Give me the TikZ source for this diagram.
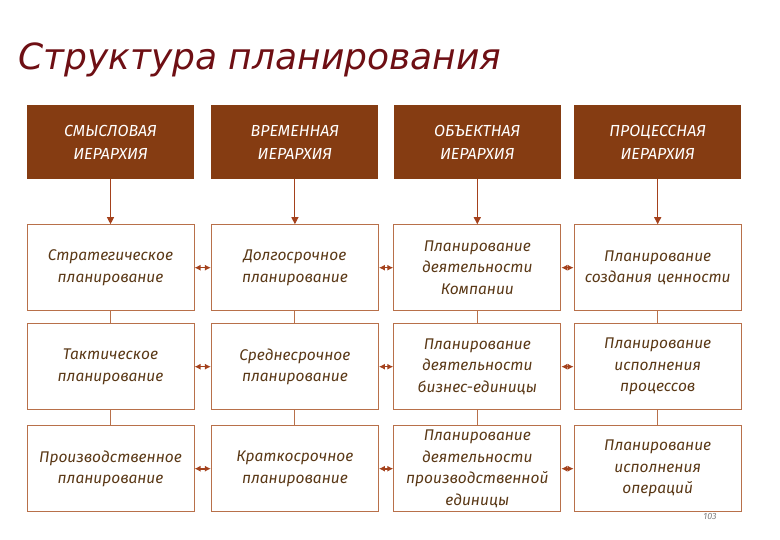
\documentclass[tikz,border=0pt]{standalone}
\usepackage{fontspec}
\setmainfont{Fira Sans}
\newfontfamily\titlefont{DejaVu Sans}
\usetikzlibrary{arrows.meta,positioning}
\definecolor{Wine}{HTML}{6E0F14}
\definecolor{Bark}{HTML}{853C12}
\definecolor{Edge}{HTML}{B8704A}
\definecolor{Ink}{HTML}{5A3816}
\definecolor{Rust}{HTML}{A4411C}

\begin{document}
\begin{tikzpicture}[x=1pt,y=-1pt,
    hd/.style={fill=Bark,text=white,minimum width=167pt,minimum height=74pt,text width=160pt,align=center,inner sep=0pt,font=\itshape\fontsize{16}{23}\selectfont},
    b/.style={draw=Edge,line width=1pt,fill=white,text=Ink,minimum width=167pt,minimum height=86pt,text width=164pt,align=center,inner sep=0pt,font=\itshape\fontsize{15.5}{21.5}\selectfont},
    dn/.style={-{Triangle[length=7pt,width=7pt]},draw=Rust,line width=1pt},
    ln/.style={draw=Edge,line width=1pt},
    dbl/.style={{Latex[length=6pt,width=6pt]}-{Latex[length=6pt,width=6pt]},draw=Rust,line width=1.6pt}]
    \fill[white] (0,0) rectangle (780,540);
    \useasboundingbox (0,0) rectangle (780,540);
    \node[anchor=base west,inner sep=0pt,text=Wine,font=\titlefont\itshape\fontsize{36}{36}\selectfont] (title) at (18,70) {Структура планирования};
    % headers
    \node[hd] (hSem) at (110.5,142) {СМЫСЛОВАЯ\\ИЕРАРХИЯ};
    \node[hd,right=17pt of hSem] (hTime) {ВРЕМЕННАЯ\\ИЕРАРХИЯ};
    \node[hd,right=15pt of hTime] (hObj) {ОБЪЕКТНАЯ\\ИЕРАРХИЯ};
    \node[hd,right=13pt of hObj] (hProc) {ПРОЦЕССНАЯ\\ИЕРАРХИЯ};
    % first row
    \node[b,below=45pt of hSem] (sem1) {Стратегическое\\планирование};
    \node[b,below=45pt of hTime] (time1) {Долгосрочное\\планирование};
    \node[b,below=45pt of hObj] (obj1) {Планирование\\деятельности\\Компании};
    \node[b,below=45pt of hProc] (proc1) {Планирование\\создания ценности};
    % second row
    \node[b,below=12pt of sem1] (sem2) {Тактическое\\планирование};
    \node[b,below=12pt of time1] (time2) {Среднесрочное\\планирование};
    \node[b,below=12pt of obj1] (obj2) {Планирование\\деятельности\\бизнес-единицы};
    \node[b,below=12pt of proc1] (proc2) {Планирование\\исполнения\\процессов};
    % third row
    \node[b,below=15pt of sem2] (sem3) {Производственное\\планирование};
    \node[b,below=15pt of time2] (time3) {Краткосрочное\\планирование};
    \node[b,below=15pt of obj2] (obj3) {Планирование\\деятельности\\производственной\\единицы};
    \node[b,below=15pt of proc2] (proc3) {Планирование\\исполнения\\операций};
    \node[text=gray,font=\itshape\fontsize{9}{9}\selectfont] (pg) at (710,516) {103};
    % connectors
    \draw[dn] (hSem)--(sem1); \draw[dn] (hTime)--(time1); \draw[dn] (hObj)--(obj1); \draw[dn] (hProc)--(proc1);
    \draw[ln] (sem1)--(sem2); \draw[ln] (sem2)--(sem3); \draw[ln] (time1)--(time2); \draw[ln] (time2)--(time3);
    \draw[ln] (obj1)--(obj2); \draw[ln] (obj2)--(obj3); \draw[ln] (proc1)--(proc2); \draw[ln] (proc2)--(proc3);
    \draw[dbl] (sem1)--(time1); \draw[dbl] (time1)--(obj1); \draw[dbl] (obj1)--(proc1);
    \draw[dbl] (sem2)--(time2); \draw[dbl] (time2)--(obj2); \draw[dbl] (obj2)--(proc2);
    \draw[dbl] (sem3)--(time3); \draw[dbl] (time3)--(obj3); \draw[dbl] (obj3)--(proc3);
  \end{tikzpicture}
\end{document}
